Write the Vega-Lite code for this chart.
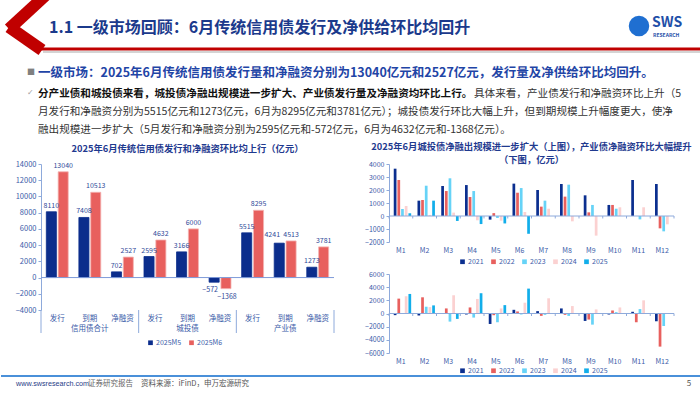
{
  "$schema": "https://vega.github.io/schema/vega-lite/v6.json",
  "padding": 0,
  "background": "white",
  "bounds": "flush",
  "spacing": 23,
  "resolve": {"scale": {"color": "independent", "xOffset": "independent", "stroke": "independent"}, "legend": {"color": "independent", "stroke": "independent"}},
  "config": {
    "font": "Noto Sans CJK SC",
    "view": {"stroke": null},
    "axis": {"labelFont": "Noto Sans CJK SC", "labelColor": "#3a5ba8", "labelFontSize": 7.5, "domainColor": "#8eaadb", "tickColor": "#8eaadb", "tickSize": 3, "grid": false, "labelOverlap": false},
    "legend": {"labelFont": "Noto Sans CJK SC", "labelFontSize": 7, "labelColor": "#3a5ba8", "symbolType": "square", "symbolSize": 22, "symbolStrokeWidth": 0, "labelOffset": 2},
    "title": {"font": "Noto Sans CJK SC", "fontWeight": "bold", "color": "#1f3a8f", "fontSize": 9.3}
  },
  "datasets": {
    "credit": [
      {"group": "信用债合计", "item": "发行", "key": "信用债合计|发行", "period": "2025M5", "value": 8110},
      {"group": "信用债合计", "item": "发行", "key": "信用债合计|发行", "period": "2025M6", "value": 13040},
      {"group": "信用债合计", "item": "到期", "key": "信用债合计|到期", "period": "2025M5", "value": 7408},
      {"group": "信用债合计", "item": "到期", "key": "信用债合计|到期", "period": "2025M6", "value": 10513},
      {"group": "信用债合计", "item": "净融资", "key": "信用债合计|净融资", "period": "2025M5", "value": 702},
      {"group": "信用债合计", "item": "净融资", "key": "信用债合计|净融资", "period": "2025M6", "value": 2527},
      {"group": "城投债", "item": "发行", "key": "城投债|发行", "period": "2025M5", "value": 2595},
      {"group": "城投债", "item": "发行", "key": "城投债|发行", "period": "2025M6", "value": 4632},
      {"group": "城投债", "item": "到期", "key": "城投债|到期", "period": "2025M5", "value": 3166},
      {"group": "城投债", "item": "到期", "key": "城投债|到期", "period": "2025M6", "value": 6000},
      {"group": "城投债", "item": "净融资", "key": "城投债|净融资", "period": "2025M5", "value": -572},
      {"group": "城投债", "item": "净融资", "key": "城投债|净融资", "period": "2025M6", "value": -1368},
      {"group": "产业债", "item": "发行", "key": "产业债|发行", "period": "2025M5", "value": 5515},
      {"group": "产业债", "item": "发行", "key": "产业债|发行", "period": "2025M6", "value": 8295},
      {"group": "产业债", "item": "到期", "key": "产业债|到期", "period": "2025M5", "value": 4241},
      {"group": "产业债", "item": "到期", "key": "产业债|到期", "period": "2025M6", "value": 4513},
      {"group": "产业债", "item": "净融资", "key": "产业债|净融资", "period": "2025M5", "value": 1273},
      {"group": "产业债", "item": "净融资", "key": "产业债|净融资", "period": "2025M6", "value": 3781}
    ],
    "ct": [
      {"m": "M1", "yr": "2021", "v": 3640}, {"m": "M1", "yr": "2022", "v": 2770}, {"m": "M1", "yr": "2023", "v": 540}, {"m": "M1", "yr": "2024", "v": 770}, {"m": "M1", "yr": "2025", "v": 210},
      {"m": "M2", "yr": "2021", "v": 1180}, {"m": "M2", "yr": "2022", "v": 1230}, {"m": "M2", "yr": "2023", "v": 2330}, {"m": "M2", "yr": "2024", "v": 80}, {"m": "M2", "yr": "2025", "v": 1180},
      {"m": "M3", "yr": "2021", "v": 2310}, {"m": "M3", "yr": "2022", "v": 1920}, {"m": "M3", "yr": "2023", "v": 2900}, {"m": "M3", "yr": "2024", "v": 260}, {"m": "M3", "yr": "2025", "v": -380},
      {"m": "M4", "yr": "2021", "v": 2380}, {"m": "M4", "yr": "2022", "v": 1460}, {"m": "M4", "yr": "2023", "v": 1920}, {"m": "M4", "yr": "2024", "v": -330}, {"m": "M4", "yr": "2025", "v": -620},
      {"m": "M5", "yr": "2021", "v": -280}, {"m": "M5", "yr": "2022", "v": 220}, {"m": "M5", "yr": "2023", "v": -150}, {"m": "M5", "yr": "2024", "v": -360}, {"m": "M5", "yr": "2025", "v": -572},
      {"m": "M6", "yr": "2021", "v": 2490}, {"m": "M6", "yr": "2022", "v": 1790}, {"m": "M6", "yr": "2023", "v": 2150}, {"m": "M6", "yr": "2024", "v": 310}, {"m": "M6", "yr": "2025", "v": -1368},
      {"m": "M7", "yr": "2021", "v": 2000}, {"m": "M7", "yr": "2022", "v": 720}, {"m": "M7", "yr": "2023", "v": 1180}, {"m": "M7", "yr": "2024", "v": 560},
      {"m": "M8", "yr": "2021", "v": 2460}, {"m": "M8", "yr": "2022", "v": 1490}, {"m": "M8", "yr": "2023", "v": 2410}, {"m": "M8", "yr": "2024", "v": -410},
      {"m": "M9", "yr": "2021", "v": 1590}, {"m": "M9", "yr": "2022", "v": 280}, {"m": "M9", "yr": "2023", "v": 850}, {"m": "M9", "yr": "2024", "v": -1510},
      {"m": "M10", "yr": "2021", "v": 850}, {"m": "M10", "yr": "2022", "v": 850}, {"m": "M10", "yr": "2023", "v": 560}, {"m": "M10", "yr": "2024", "v": 670},
      {"m": "M11", "yr": "2021", "v": 2770}, {"m": "M11", "yr": "2022", "v": 0}, {"m": "M11", "yr": "2023", "v": -260}, {"m": "M11", "yr": "2024", "v": 670},
      {"m": "M12", "yr": "2021", "v": 2460}, {"m": "M12", "yr": "2022", "v": -950}, {"m": "M12", "yr": "2023", "v": -1180}, {"m": "M12", "yr": "2024", "v": -640}
    ],
    "cy": [
      {"m": "M1", "yr": "2021", "v": -250}, {"m": "M1", "yr": "2022", "v": 2260}, {"m": "M1", "yr": "2023", "v": -50}, {"m": "M1", "yr": "2024", "v": 2620}, {"m": "M1", "yr": "2025", "v": 2970},
      {"m": "M2", "yr": "2021", "v": -300}, {"m": "M2", "yr": "2022", "v": 2460}, {"m": "M2", "yr": "2023", "v": 1030}, {"m": "M2", "yr": "2024", "v": 970}, {"m": "M2", "yr": "2025", "v": 1230},
      {"m": "M3", "yr": "2021", "v": -30}, {"m": "M3", "yr": "2022", "v": 770}, {"m": "M3", "yr": "2023", "v": -1230}, {"m": "M3", "yr": "2024", "v": 2770}, {"m": "M3", "yr": "2025", "v": -820},
      {"m": "M4", "yr": "2021", "v": -150}, {"m": "M4", "yr": "2022", "v": 920}, {"m": "M4", "yr": "2023", "v": -620}, {"m": "M4", "yr": "2024", "v": 2210}, {"m": "M4", "yr": "2025", "v": 3080},
      {"m": "M5", "yr": "2021", "v": -1590}, {"m": "M5", "yr": "2022", "v": -260}, {"m": "M5", "yr": "2023", "v": -1330}, {"m": "M5", "yr": "2024", "v": 770}, {"m": "M5", "yr": "2025", "v": 1273},
      {"m": "M6", "yr": "2021", "v": 560}, {"m": "M6", "yr": "2022", "v": 310}, {"m": "M6", "yr": "2023", "v": -150}, {"m": "M6", "yr": "2024", "v": 1640}, {"m": "M6", "yr": "2025", "v": 3781},
      {"m": "M7", "yr": "2021", "v": 360}, {"m": "M7", "yr": "2022", "v": -360}, {"m": "M7", "yr": "2023", "v": -200}, {"m": "M7", "yr": "2024", "v": 2310},
      {"m": "M8", "yr": "2021", "v": 770}, {"m": "M8", "yr": "2022", "v": -200}, {"m": "M8", "yr": "2023", "v": -360}, {"m": "M8", "yr": "2024", "v": 1130},
      {"m": "M9", "yr": "2021", "v": -1130}, {"m": "M9", "yr": "2022", "v": -920}, {"m": "M9", "yr": "2023", "v": -1690}, {"m": "M9", "yr": "2024", "v": 620},
      {"m": "M10", "yr": "2021", "v": -150}, {"m": "M10", "yr": "2022", "v": 460}, {"m": "M10", "yr": "2023", "v": 200}, {"m": "M10", "yr": "2024", "v": 920},
      {"m": "M11", "yr": "2021", "v": 260}, {"m": "M11", "yr": "2022", "v": -1330}, {"m": "M11", "yr": "2023", "v": 670}, {"m": "M11", "yr": "2024", "v": 2000},
      {"m": "M12", "yr": "2021", "v": -1180}, {"m": "M12", "yr": "2022", "v": -5030}, {"m": "M12", "yr": "2023", "v": -1900}, {"m": "M12", "yr": "2024", "v": 50}
    ]
  },
  "vconcat": [
    {
      "width": 700,
      "height": 141,
      "view": {"fill": "white", "stroke": null},
      "layer": [
        {"data": {"values": [{}]}, "mark": {"type": "rule", "color": "#c00000", "strokeWidth": 12, "clip": true}, "encoding": {"x": {"value": 46}, "y": {"value": -6}, "x2": {"value": 8}, "y2": {"value": 29}}},
        {"data": {"values": [{}]}, "mark": {"type": "rule", "color": "#c00000", "strokeWidth": 12, "clip": true}, "encoding": {"x": {"value": 8}, "y": {"value": 27}, "x2": {"value": 41}, "y2": {"value": 50}}},
        {"data": {"values": [{}]}, "mark": {"type": "rule", "color": "#d4d4d4", "strokeWidth": 2}, "encoding": {"x": {"value": 42}, "x2": {"value": 700}, "y": {"value": 52}}},
        {"data": {"values": [{}]}, "mark": {"type": "rule", "color": "#c00000", "strokeWidth": 3}, "encoding": {"x": {"value": 38}, "x2": {"value": 700}, "y": {"value": 49}}},
        {"data": {"values": [{"t": "1.1 一级市场回顾：6月传统信用债发行及净供给环比均回升"}]}, "mark": {"type": "text", "x": 48, "y": 28, "align": "left", "baseline": "middle", "fontSize": 16, "fontWeight": "bold", "color": "#1b3a8c"}, "encoding": {"text": {"field": "t"}}},
        {"data": {"values": [{}]}, "mark": {"type": "point", "filled": true, "size": 420, "color": "#1f6fd1", "opacity": 1}, "encoding": {"x": {"value": 638}, "y": {"value": 26}}},
        {"data": {"values": [{"t": "SWS"}]}, "mark": {"type": "text", "x": 651, "y": 23, "align": "left", "baseline": "middle", "fontSize": 14, "fontWeight": "bold", "color": "#1f4fa8"}, "encoding": {"text": {"field": "t"}}},
        {"data": {"values": [{"t": "RESEARCH"}]}, "mark": {"type": "text", "x": 652, "y": 35, "align": "left", "baseline": "middle", "fontSize": 5, "fontWeight": "bold", "color": "#1f4fa8"}, "encoding": {"text": {"field": "t"}}},
        {"data": {"values": [{"t": "■"}]}, "mark": {"type": "text", "x": 26, "y": 73, "align": "left", "baseline": "middle", "fontSize": 8, "color": "#808080"}, "encoding": {"text": {"field": "t"}}},
        {"data": {"values": [{"t": "一级市场：2025年6月传统信用债发行量和净融资分别为13040亿元和2527亿元，发行量及净供给环比均回升。"}]}, "mark": {"type": "text", "x": 37, "y": 73, "align": "left", "baseline": "middle", "fontSize": 12.5, "fontWeight": "bold", "color": "#1f45a6"}, "encoding": {"text": {"field": "t"}}},
        {"data": {"values": [{"t": "✓"}]}, "mark": {"type": "text", "x": 26, "y": 93, "align": "left", "baseline": "middle", "fontSize": 8, "font": "DejaVu Sans", "color": "#a0a0a0"}, "encoding": {"text": {"field": "t"}}},
        {"data": {"values": [{"t": "分产业债和城投债来看，城投债净融出规模进一步扩大、产业债发行量及净融资均环比上行。"}]}, "mark": {"type": "text", "x": 37, "y": 94, "align": "left", "baseline": "middle", "fontSize": 10.6, "fontWeight": "bold", "color": "#111111"}, "encoding": {"text": {"field": "t"}}},
        {"data": {"values": [{"t": "具体来看，产业债发行和净融资环比上升（5"}]}, "mark": {"type": "text", "x": 473, "y": 94, "align": "left", "baseline": "middle", "fontSize": 10.6, "color": "#333333"}, "encoding": {"text": {"field": "t"}}},
        {"data": {"values": [{"t": "月发行和净融资分别为5515亿元和1273亿元，6月为8295亿元和3781亿元）；城投债发行环比大幅上升，但到期规模上升幅度更大，使净"}]}, "mark": {"type": "text", "x": 37, "y": 112, "align": "left", "baseline": "middle", "fontSize": 10.6, "color": "#333333"}, "encoding": {"text": {"field": "t"}}},
        {"data": {"values": [{"t": "融出规模进一步扩大（5月发行和净融资分别为2595亿元和-572亿元，6月为4632亿元和-1368亿元）。"}]}, "mark": {"type": "text", "x": 37, "y": 130, "align": "left", "baseline": "middle", "fontSize": 10.6, "color": "#333333"}, "encoding": {"text": {"field": "t"}}},
        {"data": {"values": [{}]}, "mark": {"type": "rule", "color": "#4a90d9", "strokeWidth": 2}, "encoding": {"x": {"value": 0}, "x2": {"value": 700}, "y": {"value": 376}}},
        {"data": {"values": [{"t": "www.swsresearch.com"}]}, "mark": {"type": "text", "x": 15, "y": 384, "align": "left", "baseline": "middle", "fontSize": 7.2, "font": "Liberation Sans", "color": "#1f3c88"}, "encoding": {"text": {"field": "t"}}},
        {"data": {"values": [{"t": "证券研究报告"}]}, "mark": {"type": "text", "x": 87, "y": 384, "align": "left", "baseline": "middle", "fontSize": 7.5, "color": "#666666"}, "encoding": {"text": {"field": "t"}}},
        {"data": {"values": [{"t": "资料来源：iFinD，申万宏源研究"}]}, "mark": {"type": "text", "x": 140, "y": 384, "align": "left", "baseline": "middle", "fontSize": 7.5, "color": "#555555"}, "encoding": {"text": {"field": "t"}}},
        {"data": {"values": [{"t": "5"}]}, "mark": {"type": "text", "x": 688, "y": 384, "align": "center", "baseline": "middle", "fontSize": 8, "color": "#555555"}, "encoding": {"text": {"field": "t"}}}
      ]
    },
    {
      "bounds": "flush",
      "spacing": 0,
      "resolve": {"scale": {"color": "independent", "xOffset": "independent", "stroke": "independent"}, "legend": {"color": "independent", "stroke": "independent"}},
      "hconcat": [
        {"width": 40, "height": 10, "data": {"values": [{"t": ""}]}, "mark": {"type": "text"}, "encoding": {"text": {"field": "t"}}},
        {
          "width": 293,
          "height": 146,
          "title": {"text": "2025年6月传统信用债发行和净融资环比均上行（亿元）", "offset": 6},
          "data": {"name": "credit"},
          "layer": [
            {
              "mark": {"type": "bar", "strokeWidth": 0.8},
              "encoding": {
                "x": {"field": "key", "type": "nominal", "scale": {"domain": ["信用债合计|发行", "信用债合计|到期", "信用债合计|净融资", "城投债|发行", "城投债|到期", "城投债|净融资", "产业债|发行", "产业债|到期", "产业债|净融资"], "paddingInner": 0, "paddingOuter": 0}, "axis": {"title": null, "labelExpr": "split(datum.value, '|')[1]", "domain": false, "ticks": false, "labelAngle": 0, "labelPadding": 4}},
                "y": {"field": "value", "type": "quantitative", "scale": {"domain": [-4000, 14000], "nice": false, "zero": false}, "axis": {"title": null, "values": [-4000, -2000, 0, 2000, 4000, 6000, 8000, 10000, 12000, 14000], "tickCount": 30, "format": "d", "labelPadding": 2}},
                "xOffset": {"field": "period", "type": "nominal", "scale": {"domain": ["2025M5", "2025M6"], "paddingInner": 0.15, "paddingOuter": 0.45}},
                "color": {"field": "period", "type": "nominal", "scale": {"domain": ["2025M5", "2025M6"], "range": ["#0b2d8c", "#e8605e"]}, "legend": {"orient": "none", "legendX": 106, "legendY": 175, "direction": "horizontal", "title": null, "columnPadding": 6}},
                "stroke": {"field": "period", "type": "nominal", "scale": {"domain": ["2025M5", "2025M6"], "range": ["#0b2d8c", "#f4b4b2"]}, "legend": null}
              }
            },
            {
              "transform": [{"filter": "datum.value >= 0 && !(datum.key == '产业债|到期' && datum.period == '2025M5')"}],
              "mark": {"type": "text", "dy": -6, "fontSize": 7, "color": "#2f4a99"},
              "encoding": {
                "x": {"field": "key", "type": "nominal"},
                "y": {"field": "value", "type": "quantitative"},
                "xOffset": {"field": "period", "type": "nominal"},
                "text": {"field": "value", "type": "quantitative", "format": "d"}
              }
            },
            {
              "transform": [{"filter": "datum.key == '产业债|到期' && datum.period == '2025M5'"}],
              "mark": {"type": "text", "dy": -8, "dx": -7, "fontSize": 7, "color": "#2f4a99"},
              "encoding": {
                "x": {"field": "key", "type": "nominal"},
                "y": {"field": "value", "type": "quantitative"},
                "xOffset": {"field": "period", "type": "nominal"},
                "text": {"field": "value", "type": "quantitative", "format": "d"}
              }
            },
            {
              "transform": [{"filter": "datum.value < 0 && datum.period == '2025M5'"}],
              "mark": {"type": "text", "dy": 8, "dx": -4, "fontSize": 7, "color": "#2f4a99"},
              "encoding": {
                "x": {"field": "key", "type": "nominal"},
                "y": {"field": "value", "type": "quantitative"},
                "xOffset": {"field": "period", "type": "nominal"},
                "text": {"field": "value", "type": "quantitative", "format": "d"}
              }
            },
            {
              "transform": [{"filter": "datum.value < 0 && datum.period == '2025M6'"}],
              "mark": {"type": "text", "dy": 8, "dx": 1, "fontSize": 7, "color": "#2f4a99"},
              "encoding": {
                "x": {"field": "key", "type": "nominal"},
                "y": {"field": "value", "type": "quantitative"},
                "xOffset": {"field": "period", "type": "nominal"},
                "text": {"field": "value", "type": "quantitative", "format": "d"}
              }
            },
            {
              "data": {"values": [{}]},
              "mark": {"type": "rule", "color": "#7e9bd9", "strokeWidth": 1},
              "encoding": {"y": {"datum": 0, "type": "quantitative"}}
            },
            {
              "transform": [{"filter": "datum.item == '到期' && datum.period == '2025M5'"}],
              "mark": {"type": "text", "fontSize": 7.5, "color": "#3a5ba8"},
              "encoding": {
                "x": {"field": "key", "type": "nominal"},
                "y": {"datum": -6300, "type": "quantitative"},
                "text": {"field": "group", "type": "nominal"}
              }
            },
            {
              "transform": [{"filter": "datum.item == '发行' && datum.period == '2025M5'"}],
              "mark": {"type": "rule", "color": "#8eaadb", "strokeWidth": 1},
              "encoding": {
                "x": {"field": "key", "type": "nominal", "bandPosition": 0},
                "y": {"datum": -4000, "type": "quantitative"},
                "y2": {"datum": -6836}
              }
            },
            {
              "transform": [{"filter": "datum.key == '产业债|净融资' && datum.period == '2025M5'"}],
              "mark": {"type": "rule", "color": "#8eaadb", "strokeWidth": 1},
              "encoding": {
                "x": {"field": "key", "type": "nominal", "bandPosition": 1},
                "y": {"datum": -4000, "type": "quantitative"},
                "y2": {"datum": -6836}
              }
            }
          ]
        },
        {"width": 55, "height": 10, "data": {"values": [{"t": ""}]}, "mark": {"type": "text"}, "encoding": {"text": {"field": "t"}}},
        {
          "bounds": "flush",
          "spacing": 32,
          "resolve": {"scale": {"color": "independent", "xOffset": "independent"}, "legend": {"color": "independent"}},
          "vconcat": [
            {
              "width": 285,
              "height": 78,
              "title": {"text": ["2025年6月城投债净融出规模进一步扩大（上图），产业债净融资环比大幅提升", "（下图，亿元）"], "offset": -5, "lineHeight": 12.5},
              "data": {"name": "ct"},
              "layer": [
                {
                  "mark": {"type": "bar"},
                  "encoding": {
                    "x": {"field": "m", "type": "nominal", "scale": {"domain": ["M1", "M2", "M3", "M4", "M5", "M6", "M7", "M8", "M9", "M10", "M11", "M12"], "paddingInner": 0, "paddingOuter": 0}, "axis": {"title": null, "domain": false, "ticks": false, "labelAngle": 0, "labelPadding": 4, "labelFontSize": 7}},
                    "y": {"field": "v", "type": "quantitative", "scale": {"domain": [-2000, 4000], "nice": false, "zero": false}, "axis": {"title": null, "values": [-2000, -1000, 0, 1000, 2000, 3000, 4000], "tickCount": 30, "format": "d", "labelPadding": 2, "labelFontSize": 7}},
                    "xOffset": {"field": "yr", "type": "nominal", "scale": {"domain": ["2021", "2022", "2023", "2024", "2025"], "paddingInner": 0.26, "paddingOuter": 0.86, "align": 0.75}},
                    "color": {"field": "yr", "type": "nominal", "scale": {"domain": ["2021", "2022", "2023", "2024", "2025"], "range": ["#0b2f8f", "#e8605e", "#66d3f7", "#fbd1d1", "#12aeea"]}, "legend": {"orient": "none", "legendX": 70, "legendY": 94, "direction": "horizontal", "title": null, "columnPadding": 6}}
                  }
                },
                {
                  "data": {"values": [{}]},
                  "mark": {"type": "rule", "color": "#8eaadb", "strokeWidth": 1},
                  "encoding": {"y": {"datum": 0, "type": "quantitative"}}
                },
                {
                  "transform": [{"filter": "datum.yr == '2021'"}],
                  "mark": {"type": "rule", "color": "#8eaadb", "strokeWidth": 1},
                  "encoding": {
                    "x": {"field": "m", "type": "nominal", "bandPosition": 0},
                    "y": {"datum": 0, "type": "quantitative"},
                    "y2": {"datum": -190}
                  }
                },
                {
                  "transform": [{"filter": "datum.yr == '2021' && datum.m == 'M12'"}],
                  "mark": {"type": "rule", "color": "#8eaadb", "strokeWidth": 1},
                  "encoding": {
                    "x": {"field": "m", "type": "nominal", "bandPosition": 1},
                    "y": {"datum": 0, "type": "quantitative"},
                    "y2": {"datum": -190}
                  }
                }
              ]
            },
            {
              "width": 285,
              "height": 79,
              "data": {"name": "cy"},
              "layer": [
                {
                  "mark": {"type": "bar"},
                  "encoding": {
                    "x": {"field": "m", "type": "nominal", "scale": {"domain": ["M1", "M2", "M3", "M4", "M5", "M6", "M7", "M8", "M9", "M10", "M11", "M12"], "paddingInner": 0, "paddingOuter": 0}, "axis": {"title": null, "domain": false, "ticks": false, "labelAngle": 0, "labelPadding": 4, "labelFontSize": 7}},
                    "y": {"field": "v", "type": "quantitative", "scale": {"domain": [-6000, 6000], "nice": false, "zero": false}, "axis": {"title": null, "values": [-6000, -4000, -2000, 0, 2000, 4000, 6000], "tickCount": 30, "format": "d", "labelPadding": 2, "labelFontSize": 7}},
                    "xOffset": {"field": "yr", "type": "nominal", "scale": {"domain": ["2021", "2022", "2023", "2024", "2025"], "paddingInner": 0.26, "paddingOuter": 0.86, "align": 0.75}},
                    "color": {"field": "yr", "type": "nominal", "scale": {"domain": ["2021", "2022", "2023", "2024", "2025"], "range": ["#0b2f8f", "#e8605e", "#66d3f7", "#fbd1d1", "#12aeea"]}, "legend": {"orient": "none", "legendX": 70, "legendY": 93, "direction": "horizontal", "title": null, "columnPadding": 6}}
                  }
                },
                {
                  "data": {"values": [{}]},
                  "mark": {"type": "rule", "color": "#8eaadb", "strokeWidth": 1},
                  "encoding": {"y": {"datum": 0, "type": "quantitative"}}
                },
                {
                  "transform": [{"filter": "datum.yr == '2021'"}],
                  "mark": {"type": "rule", "color": "#8eaadb", "strokeWidth": 1},
                  "encoding": {
                    "x": {"field": "m", "type": "nominal", "bandPosition": 0},
                    "y": {"datum": 0, "type": "quantitative"},
                    "y2": {"datum": -380}
                  }
                },
                {
                  "transform": [{"filter": "datum.yr == '2021' && datum.m == 'M12'"}],
                  "mark": {"type": "rule", "color": "#8eaadb", "strokeWidth": 1},
                  "encoding": {
                    "x": {"field": "m", "type": "nominal", "bandPosition": 1},
                    "y": {"datum": 0, "type": "quantitative"},
                    "y2": {"datum": -380}
                  }
                }
              ]
            }
          ]
        }
      ]
    }
  ]
}
